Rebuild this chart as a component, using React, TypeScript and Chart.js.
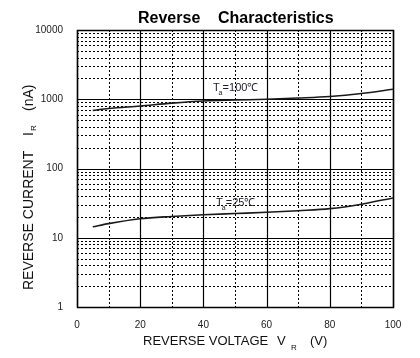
import React, { useEffect, useRef } from "react";
import { Chart, registerables } from "chart.js";

Chart.register(...registerables);

const voltage = [5, 10, 20, 30, 40, 50, 60, 70, 80, 90, 100];
const current100 = [690, 735, 800, 880, 945, 975, 1000, 1040, 1094, 1208, 1396];
const current25 = [14.4, 16.0, 18.8, 20.3, 21.5, 22.4, 23.3, 24.6, 26.3, 30.5, 37.6];
const xTicks = [0, 20, 40, 60, 80, 100];
const yTicks = [1, 10, 100, 1000, 10000];
const xMinor = [10, 30, 50, 70, 90];
const labels = [
  { temp: "100℃", v: 43, i: 1450 },
  { temp: "25℃", v: 44, i: 32 },
];

const FONT = "'Liberation Sans', Arial, sans-serif";

const gridPlugin = {
  id: "customGrid",
  beforeDatasetsDraw(chart: any) {
    const { ctx, chartArea: a, scales } = chart;
    const xs = scales.x;
    const ys = scales.y;
    ctx.save();
    ctx.lineWidth = 1;
    ctx.strokeStyle = "#000";
    // minor dotted
    ctx.setLineDash([2, 2]);
    ctx.beginPath();
    for (const v of xMinor) {
      const px = Math.round(xs.getPixelForValue(v)) + 0.5;
      ctx.moveTo(px, a.top);
      ctx.lineTo(px, a.bottom);
    }
    for (let d = 0; d < yTicks.length - 1; d++) {
      for (let m = 2; m <= 9; m++) {
        const py = Math.round(ys.getPixelForValue(yTicks[d] * m)) + 0.5;
        ctx.moveTo(a.left, py);
        ctx.lineTo(a.right, py);
      }
    }
    ctx.stroke();
    // major solid
    ctx.setLineDash([]);
    ctx.lineWidth = 1.2;
    ctx.beginPath();
    for (const v of xTicks) {
      const px = Math.round(xs.getPixelForValue(v)) + 0.5;
      ctx.moveTo(px, a.top);
      ctx.lineTo(px, a.bottom);
    }
    for (const v of yTicks) {
      const py = Math.round(ys.getPixelForValue(v)) + 0.5;
      ctx.moveTo(a.left, py);
      ctx.lineTo(a.right, py);
    }
    ctx.stroke();
    ctx.lineWidth = 1.5;
    ctx.strokeRect(a.left + 0.5, a.top + 0.5, a.right - a.left, a.bottom - a.top);
    ctx.restore();
  },
  afterDraw(chart: any) {
    const { ctx, chartArea: a, scales } = chart;
    ctx.save();
    ctx.fillStyle = "#000";
    // title
    ctx.font = `bold 16px ${FONT}`;
    ctx.textBaseline = "middle";
    ctx.textAlign = "left";
    ctx.fillText("Reverse", 138, 19);
    ctx.fillText("Characteristics", 218, 19);

    // curve labels
    ctx.fillStyle = "#1c1c2c";
    for (const l of labels) {
      const px = scales.x.getPixelForValue(l.v);
      const py = scales.y.getPixelForValue(l.i);
      ctx.font = `11px ${FONT}`;
      ctx.textBaseline = "middle";
      ctx.fillText("T", px, py);
      const tw = ctx.measureText("T").width;
      ctx.font = `7px ${FONT}`;
      ctx.fillText("a", px + tw - 1, py + 5);
      ctx.font = `11px ${FONT}`;
      ctx.fillText("=" + l.temp, px + tw + 3, py);
    }

    // x axis title
    ctx.fillStyle = "#111";
    ctx.font = `13px ${FONT}`;
    ctx.textBaseline = "middle";
    ctx.fillText("REVERSE VOLTAGE", 143, 341);
    ctx.fillText("V", 277, 341);
    ctx.font = `8px ${FONT}`;
    ctx.fillText("R", 291, 348);
    ctx.font = `13px ${FONT}`;
    ctx.fillText("(V)", 310, 341);

    // y axis title
    ctx.translate(29, 0);
    ctx.rotate(-Math.PI / 2);
    ctx.font = `14px ${FONT}`;
    ctx.fillText("REVERSE CURRENT", -290, 0);
    ctx.fillText("I", -136, 0);
    ctx.font = `8px ${FONT}`;
    ctx.fillText("R", -131, 5);
    ctx.font = `14px ${FONT}`;
    ctx.fillText("(nA)", -111, 0);
    ctx.restore();
  },
};

export default function App() {
  const ref = useRef<HTMLCanvasElement | null>(null);
  useEffect(() => {
    if (!ref.current) return;
    const chart = new Chart(ref.current, {
      type: "line",
      data: {
        datasets: [
          {
            data: voltage.map((v, i) => ({ x: v, y: current100[i] })),
            borderColor: "#1a1a1a",
            borderWidth: 1.6,
            pointRadius: 0,
            cubicInterpolationMode: "monotone",
          },
          {
            data: voltage.map((v, i) => ({ x: v, y: current25[i] })),
            borderColor: "#1a1a1a",
            borderWidth: 1.6,
            pointRadius: 0,
            cubicInterpolationMode: "monotone",
          },
        ],
      },
      plugins: [gridPlugin],
      options: {
        animation: false,
        responsive: false,
        maintainAspectRatio: false,
        layout: { padding: { top: 30, right: 27, left: 0, bottom: 0 } },
        plugins: { legend: { display: false }, tooltip: { enabled: false }, title: { display: false } },
        scales: {
          x: {
            type: "linear",
            min: 0,
            max: 100,
            grid: { display: false },
            border: { display: false },
            afterBuildTicks: (s: any) => {
              s.ticks = xTicks.map((v) => ({ value: v }));
            },
            afterFit: (s: any) => {
              s.height = 51;
            },
            ticks: {
              padding: 4,
              color: "#222",
              font: { family: FONT, size: 10 },
              maxRotation: 0,
            },
          },
          y: {
            type: "logarithmic",
            min: 1,
            max: 10000,
            grid: { display: false },
            border: { display: false },
            afterBuildTicks: (s: any) => {
              s.ticks = yTicks.map((v) => ({ value: v, major: true }));
            },
            afterFit: (s: any) => {
              s.width = 77;
            },
            ticks: {
              padding: 6,
              color: "#222",
              font: { family: FONT, size: 10 },
              callback: (v: any) => String(v),
            },
          },
        },
      },
    });
    return () => chart.destroy();
  }, []);
  return (
    <div style={{ position: "absolute", left: 0, top: 0, width: 420, height: 358, background: "#fff" }}>
      <canvas ref={ref} width={420} height={358} style={{ width: 420, height: 358 }} />
    </div>
  );
}
